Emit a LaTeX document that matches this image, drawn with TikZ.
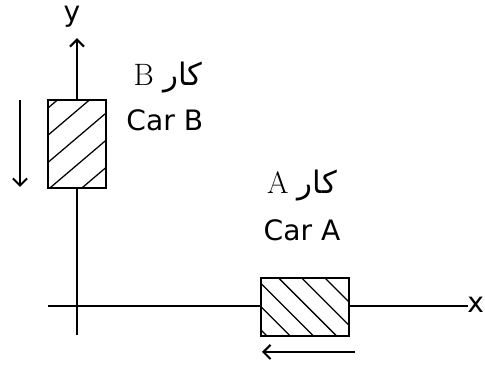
\documentclass[tikz,border=0pt]{standalone}
\usepackage{fontspec}
\setsansfont{DejaVu Sans}
\newfontfamily\arabicfont[Script=Arabic]{DejaVu Sans}
\TeXXeTstate=1
\usetikzlibrary{arrows.meta}
\usetikzlibrary{calc}
\tikzset{
  axis/.style={line width=2pt},
  carbox/.style={draw,line width=1.8pt,inner sep=0pt},
  hatch/.style={line width=0.9pt},
  motion/.style={line width=1.8pt,-{Straight Barb[length=5pt,width=10pt,line width=1.5pt]}},
  carname/.style={font=\fontsize{20}{22}\selectfont\sffamily},
  urdu/.style={font=\fontsize{22}{24}\selectfont}
}
\begin{document}
\begin{tikzpicture}
		\useasboundingbox (0,0) rectangle (12.125,9.275);
		% axes
		\coordinate (xl) at (1.2,1.625);
		\coordinate (xr) at (11.7,1.625);
		\coordinate (yb) at (1.925,0.9);
		\coordinate (yt) at (1.925,8.32);
		\draw[axis] (xl) -- (xr);
		\draw[axis,-{Straight Barb[length=5pt,width=10pt,line width=1.5pt]}] (yb) -- (yt);
		\node[font=\fontsize{20}{22}\selectfont\sffamily,anchor=east,inner sep=0.5pt] (xlab) at (12.125,1.66) {x};
		\node[font=\fontsize{20}{22}\selectfont\sffamily] (ylab) at (1.8,8.85) {y};
		% car B
		\node[carbox,minimum width=1.45cm,minimum height=2.2cm,fill=white,
		  path picture={\foreach \k in {-1.4,-0.72,...,2.2}
		    \draw[hatch] ($(path picture bounding box.south west)+(0,\k)$) -- ++(3,2.55);}]
		  (carB) at (1.925,5.675) {};
		\coordinate (bs) at (0.5,6.775);
		\coordinate (be) at (0.5,4.6);
		\draw[motion] (bs) -- (be);
		\node[urdu] (urduB) at (4.2,7.33) {B \arabicfont\beginR کار\endR};
		\node[carname] (nameB) at (4.12,6.27) {Car B};
		% car A
		\node[carbox,minimum width=2.2cm,minimum height=1.45cm,fill=white,
		  path picture={\foreach \k in {-1.3,-0.72,...,2.3}
		    \draw[hatch] ($(path picture bounding box.north west)+(\k,0)$) -- ++(2,-2);}]
		  (carA) at (7.625,1.6) {};
		\coordinate (as) at (8.875,0.475);
		\coordinate (ae) at (6.55,0.475);
		\draw[motion] (as) -- (ae);
		\node[urdu] (urduA) at (7.55,4.63) {A \arabicfont\beginR کار\endR};
		\node[carname] (nameA) at (7.55,3.53) {Car A};
\end{tikzpicture}
\end{document}
